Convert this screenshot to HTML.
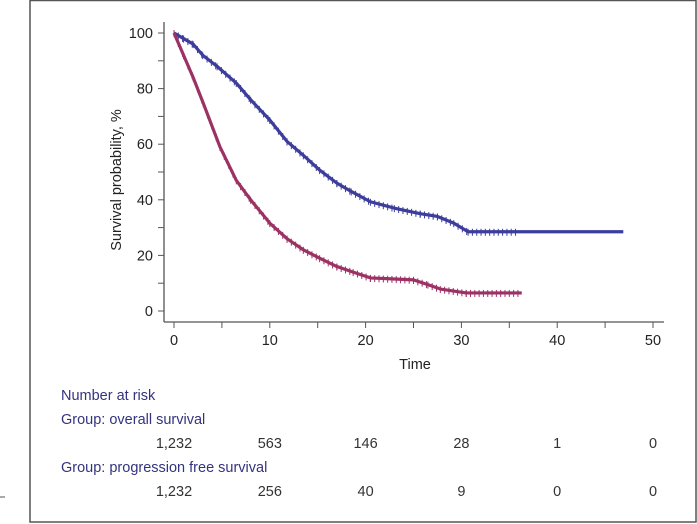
<!DOCTYPE html>
<html><head><meta charset="utf-8"><style>
body{margin:0;background:#fff;font-family:"Liberation Sans",sans-serif;}
svg{display:block}
</style></head><body>
<svg width="697" height="524">
<rect x="30" y="0.5" width="666" height="521.5" fill="none" stroke="#555" stroke-width="1.5"/>
<line x1="0" y1="497" x2="5" y2="497" stroke="#555"/>
<g id="axes"></g>
<g id="series"></g>
<text x="415" y="369" font-size="14.5" fill="#222" text-anchor="middle">Time</text>
<text transform="translate(121,180) rotate(-90)" font-size="14.5" fill="#222" text-anchor="middle">Survival probability, %</text>
<g font-size="14.5" fill="#33337f">
<text x="61" y="400">Number at risk</text>
<text x="61" y="424">Group: overall survival</text>
<text x="61" y="472">Group: progression free survival</text>
</g>
<g id="risk" font-size="14.5" fill="#333" text-anchor="middle"></g>
</svg>
<script>
const xTicks=[0,10,20,30,40,50];
const yTicks=[0,20,40,60,80,100];
const osT=[0,1,2,3,4.5,6.5,8,10,11.8,13.5,15.2,17,18.5,20.5,23,25.7,27.5,29.2,30.7,46.9];
const osV=[100,98,96,92,88,82,76,68.7,61,56,50.7,46,43,39.3,37,35,34,31.6,28.5,28.5];
const pfsT=[0,1,2,3.06,4.8,6.5,8,10,11.8,13.5,15.2,17,18.7,20.5,25,26.5,27.8,30.5,36.3];
const pfsV=[100,92,84,74.7,59,47,40,31.6,26,22,19,16,14,11.9,11.2,9.5,7.9,6.5,6.5];
const riskOS=["1,232","563","146","28","1","0"];
const riskPFS=["1,232","256","40","9","0","0"];
const NS="http://www.w3.org/2000/svg";
const X=t=>174+t*9.58, Y=v=>311-v*2.78;
function mk(tag,a,p){const e=document.createElementNS(NS,tag);for(const k in a)e.setAttribute(k,a[k]);p.appendChild(e);return e;}
const ax=document.getElementById('axes');
const yl=mk('line',{x1:164,y1:22,x2:164,y2:322,stroke:'#555','stroke-width':1.3},ax);


const xl=mk('line',{x1:164,y1:322,x2:664,y2:322,stroke:'#555','stroke-width':1.3},ax);


for(let v=0;v<=100;v+=10){const l=mk('line',{x1:158,x2:164,y1:Y(v),y2:Y(v),stroke:'#555'},ax);

}
yTicks.forEach(v=>{const t=mk('text',{x:153,y:Y(v)+5,'font-size':14.5,fill:'#222','text-anchor':'end'},ax);t.textContent=v;

});
for(let v=0;v<=50;v+=5){const l=mk('line',{x1:X(v),x2:X(v),y1:322,y2:328,stroke:'#555'},ax);

}
xTicks.forEach(v=>{const t=mk('text',{x:X(v),y:345,'font-size':14.5,fill:'#222','text-anchor':'middle'},ax);t.textContent=v;

});
const sg=document.getElementById('series');
function series(T,V,col,name,last){
  let d='M'+X(T[0])+','+Y(V[0]);
  for(let i=1;i<T.length;i++)d+=' L'+X(T[i])+','+Y(V[i]);
  const p=mk('path',{d:d,fill:'none',stroke:col,'stroke-width':3.2,'stroke-linejoin':'round'},sg);
  
  
  for(let i=0;i<T.length-1;i++){const tEnd=Math.min(T[i+1],last);for(let t=T[i];t<tEnd;t+=0.45){const v=V[i]+(V[i+1]-V[i])*(t-T[i])/(T[i+1]-T[i]);
    const c=mk('line',{x1:X(t),x2:X(t),y1:Y(v)-3,y2:Y(v)+4,stroke:col,'stroke-width':1},sg);
    
    }}
}
series(osT,osV,'#3d3d9c','os-curve',36);
series(pfsT,pfsV,'#9c3264','pfs-curve',36.3);
const rg=document.getElementById('risk');
xTicks.forEach((t,i)=>{
  const a=mk('text',{x:X(t),y:448},rg);a.textContent=riskOS[i];
  
  
  const b=mk('text',{x:X(t),y:496},rg);b.textContent=riskPFS[i];
  
  
});
</script>
</body></html>
